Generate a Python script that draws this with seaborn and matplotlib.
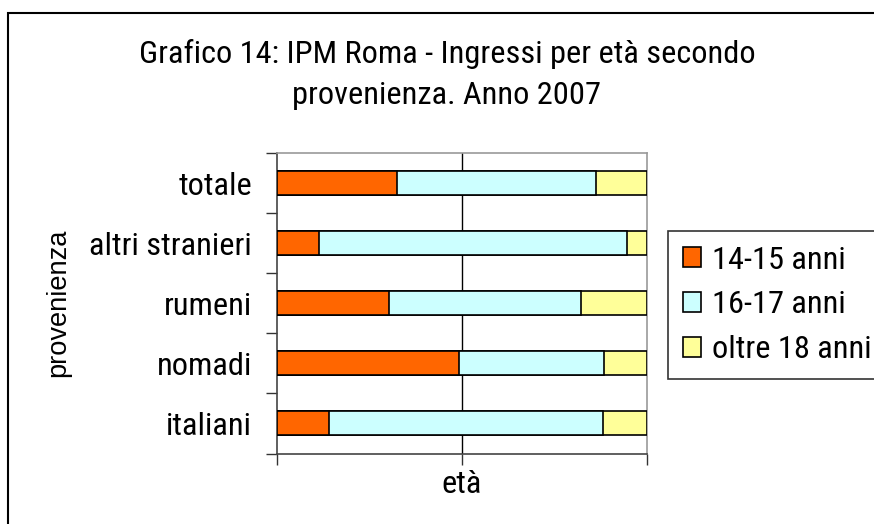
import matplotlib
matplotlib.use("Agg")
import matplotlib.pyplot as plt
import seaborn as sns
import pandas as pd
import numpy as np
from matplotlib.patches import Rectangle, Patch

categories = ["totale", "altri stranieri", "rumeni", "nomadi", "italiani"]
eta_14_15 = [32.3, 11.3, 30.2, 49.1, 14.0]
eta_16_17 = [54.0, 83.2, 51.9, 39.4, 74.0]
oltre_18 = [13.7, 5.5, 17.9, 11.5, 12.0]
series_labels = ["14-15 anni", "16-17 anni", "oltre 18 anni"]
colors = ["#FF6600", "#CCFFFF", "#FFFF99"]

sns.set_style("white")
NARROW = ["Liberation Sans Narrow", "Arial Narrow", "Roboto Condensed", "PT Sans Narrow",
          "Archivo Narrow", "Sofia Sans Semi Condensed", "DejaVu Sans"]
plt.rcParams["font.family"] = NARROW
plt.rcParams["text.color"] = "black"
plt.rcParams["axes.labelcolor"] = "black"
plt.rcParams["ytick.color"] = "black"
plt.rcParams["xtick.color"] = "black"
FS = 23.3

W, H = 874, 524
fig = plt.figure(figsize=(W / 100, H / 100), dpi=100)
ax = fig.add_axes([277 / W, 1 - 453.5 / H, 370 / W, 300.5 / H])

# outer chart frame
fig.patches.append(Rectangle((8 / W, -0.1), 1.2, 1 - 13 / H + 0.1, transform=fig.transFigure,
                             fill=False, edgecolor="black", linewidth=1.5, zorder=0))

df = pd.DataFrame({"provenienza": categories,
                   "a": eta_14_15, "b": eta_16_17, "c": oltre_18})
tot = df["a"] + df["b"] + df["c"]
df["p1"] = df["a"] / tot * 100
df["p2"] = (df["a"] + df["b"]) / tot * 100
df["p3"] = 100.0

for col, colr in zip(["p3", "p2", "p1"], colors[::-1]):
    sns.barplot(data=df, y="provenienza", x=col, order=categories, orient="h",
                color=colr, saturation=1, width=0.4, edgecolor="black",
                linewidth=1.2, ax=ax, zorder=3)

ax.set_xlim(0, 100)
ax.set_ylim(4.5, -0.5)
ax.set_xticks([0, 50, 100])
ax.set_xticklabels([])
ax.tick_params(axis="x", direction="out", length=8, width=1, color="#333333", bottom=True)
ax.set_yticks(range(len(categories)))
ax.set_yticklabels(categories, fontsize=FS, family=NARROW, color="black")
ax.tick_params(axis="y", which="major", length=0, pad=18)
ax.set_yticks(np.arange(-0.5, len(categories), 1), minor=True)
ax.tick_params(axis="y", which="minor", direction="out", length=8, width=1, color="#333333", left=True)
ax.axvline(50, color="black", linewidth=1, zorder=1)

for s in ["left", "bottom"]:
    ax.spines[s].set_color("#444444")
    ax.spines[s].set_linewidth(1.2)
for s in ["top", "right"]:
    ax.spines[s].set_color("#999999")
    ax.spines[s].set_linewidth(1.2)

ax.set_xlabel("età", fontsize=FS, family=NARROW, labelpad=0.5, color="black")
ax.set_ylabel("provenienza", fontsize=19.6, family=["Liberation Sans", "Arimo", "DejaVu Sans"],
              color="black")
ax.yaxis.set_label_coords(-0.555, 0.5)

fig.text(447 / W, 1 - 54 / H, "Grafico 14: IPM Roma - Ingressi per età secondo",
         ha="center", va="center", fontsize=FS, family=NARROW, color="black")
fig.text(447 / W, 1 - 96 / H, "provenienza. Anno 2007",
         ha="center", va="center", fontsize=FS, family=NARROW, color="black")

handles = [Patch(facecolor=c, edgecolor="black", linewidth=1.2) for c in colors]
leg = fig.legend(handles, series_labels, loc="upper left",
                 bbox_to_anchor=(668 / W, 1 - 231 / H), borderaxespad=0,
                 prop={"family": NARROW, "size": FS}, frameon=True, fancybox=False,
                 edgecolor="black", handlelength=0.58, handleheight=0.58,
                 handletextpad=0.32, borderpad=0.45, labelspacing=0.49)
leg.get_frame().set_linewidth(1.2)
for t in leg.get_texts():
    t.set_color("black")

fig.savefig("out.png", dpi=100)
